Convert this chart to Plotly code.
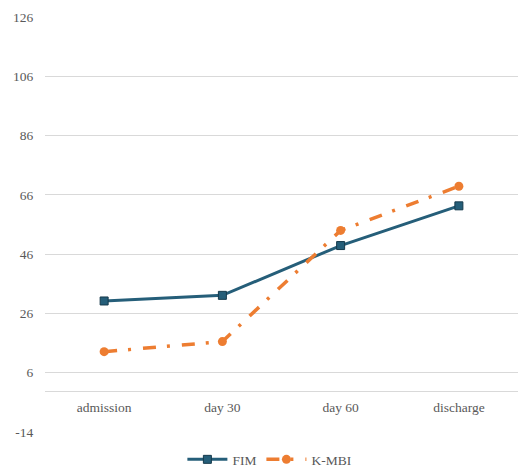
import plotly.graph_objects as go

# Functional scores over the rehabilitation stay
stages = ["admission", "day 30", "day 60", "discharge"]
fim = [30.2, 32.1, 48.9, 62.3]
kmbi = [13.1, 16.5, 54.0, 68.9]
y_ticks = [-14, 6, 26, 46, 66, 86, 106, 126]
y_tick_text = ["-14", "6", "26", "46", "66", "86", "106", "126"]

font_family = "Liberation Serif"
text_color = "#595959"
grid_color = "#d9d9d9"

fig = go.Figure()

fig.add_trace(go.Scatter(
    x=stages, y=fim, name="FIM", mode="lines+markers",
    line=dict(color="#255e79", width=3),
    marker=dict(symbol="square", size=8, color="#255e79",
                line=dict(color="#163a4c", width=1)),
))

fig.add_trace(go.Scatter(
    x=stages, y=kmbi, name="K-MBI", mode="lines+markers",
    line=dict(color="#ed7d31", width=3.5, dash="13px,11px,3px,12px"),
    marker=dict(symbol="circle", size=9, color="#ed7d31"),
))

fig.update_layout(
    width=519, height=468,
    margin=dict(l=45, r=1, t=17, b=36, autoexpand=False),
    paper_bgcolor="white", plot_bgcolor="white",
    font=dict(family=font_family, size=13.5, color=text_color),
    showlegend=True,
    legend=dict(orientation="h", x=0.52, xanchor="center", xref="container",
                y=0.018, yanchor="middle", yref="container",
                font=dict(family=font_family, size=13.5, color=text_color),
                itemwidth=40, tracegroupgap=0),
    xaxis=dict(
        range=[-0.5, 3.5], anchor="free", position=0.1, automargin=False,
        showline=True, linecolor=grid_color, linewidth=1,
        showgrid=False, zeroline=False,
        ticks="outside", ticklen=4, tickcolor="rgba(0,0,0,0)",
        tickfont=dict(family=font_family, size=13.5, color=text_color),
    ),
    yaxis=dict(
        range=[-14, 126], tickmode="array", tickvals=y_ticks,
        ticktext=y_tick_text, automargin=False,
        showgrid=True, gridcolor=grid_color, gridwidth=1,
        zeroline=False, showline=False,
        ticks="outside", ticklen=8, tickcolor="rgba(0,0,0,0)",
        tickfont=dict(family=font_family, size=13.5, color=text_color),
    ),
)

fig.write_html("out.html")
